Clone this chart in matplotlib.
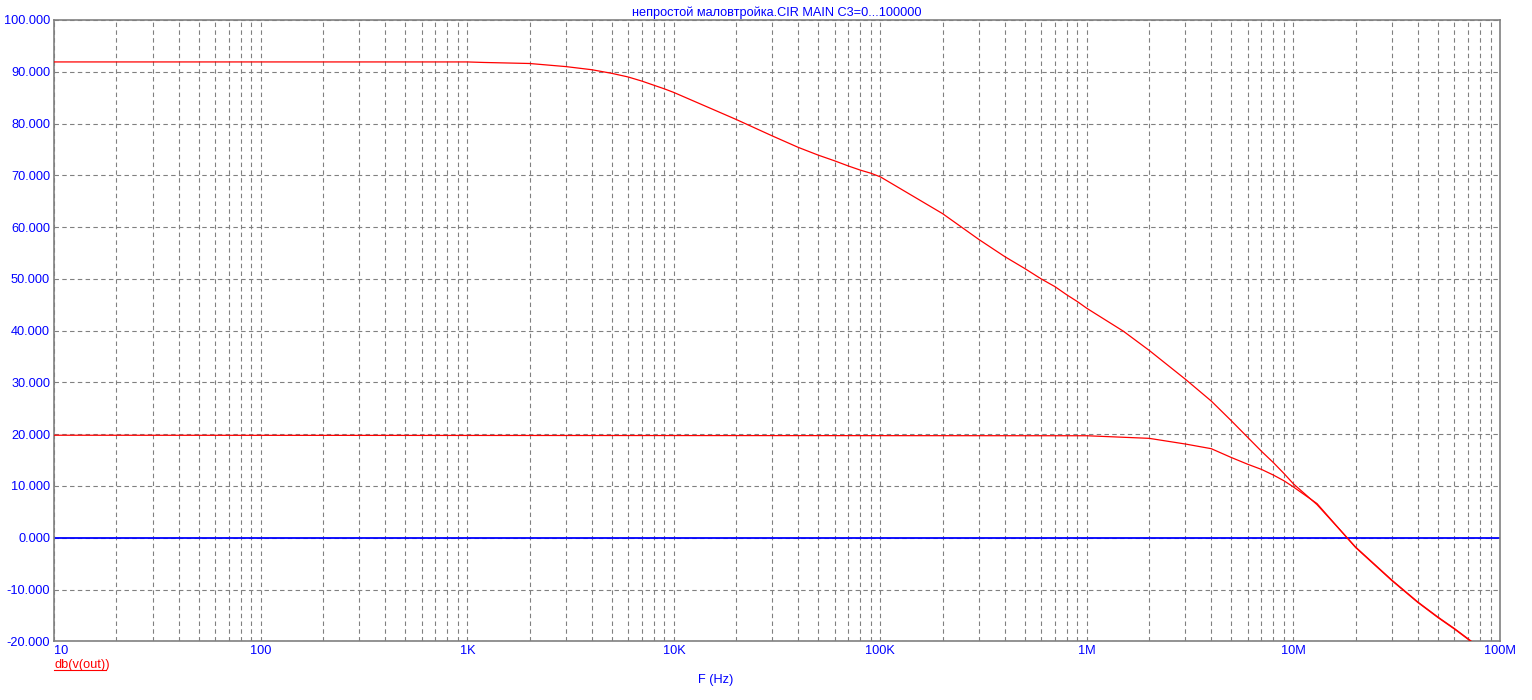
import numpy as np
import matplotlib
matplotlib.use('Agg')
import matplotlib.pyplot as plt
from matplotlib.lines import Line2D
from matplotlib.ticker import FixedLocator, NullFormatter

plt.rcParams['font.family'] = ['Liberation Sans', 'DejaVu Sans']

# upper curve (C3 = 0)
f_upper = [10, 1e3, 1.2e3, 2e3, 3e3, 4e3, 5e3, 6e3, 7e3, 8e3, 9e3, 1e4,
           2e4, 3e4, 4e4, 5e4, 6e4, 7e4, 8e4, 9e4, 1e5,
           2e5, 3e5, 4e5, 5e5, 6e5, 7e5, 8e5, 9e5, 1e6, 1.5e6,
           2e6, 3e6, 4e6, 5e6, 6e6, 7e6, 8e6, 9e6, 1e7, 1.3e7,
           2e7, 3e7, 4e7, 5e7, 6e7, 7e7, 1e8]
db_upper = [91.9, 91.9, 91.8, 91.6, 91.0, 90.4, 89.7, 89.0, 88.2, 87.4, 86.7, 86.0,
            80.8, 77.6, 75.4, 73.9, 72.8, 71.8, 71.0, 70.4, 69.7,
            62.6, 57.6, 54.3, 52.0, 50.0, 48.5, 46.9, 45.6, 44.3, 39.9,
            36.2, 30.6, 26.4, 22.6, 19.4, 16.7, 14.5, 12.4, 10.4, 6.4,
            -1.8, -8.2, -12.4, -15.3, -17.5, -19.5, -24.3]

# lower curve (C3 = 100000)
f_lower = [10, 1e6, 2e6, 3e6, 4e6, 5e6, 6e6, 7e6, 8e6, 9e6, 1e7, 1.3e7,
           2e7, 3e7, 4e7, 5e7, 6e7, 7e7, 1e8]
db_lower = [19.8, 19.7, 19.2, 18.1, 17.2, 15.5, 14.2, 13.2, 12.1, 11.0, 9.8, 6.6,
            -1.9, -8.3, -12.5, -15.4, -17.6, -19.6, -24.4]

x_ticks = [10, 100, 1e3, 1e4, 1e5, 1e6, 1e7, 1e8]
x_labels = ['10', '100', '1K', '10K', '100K', '1M', '10M', '100M']
y_ticks = list(range(-20, 101, 10))

blue = '#0000ff'
gray = '#808080'

fig = plt.figure(figsize=(15.32, 7.0), dpi=100)
ax = fig.add_axes([54.3 / 1532, 1 - 641.3 / 700, (1500 - 54.3) / 1532, (641.3 - 20) / 700])

ax.set_xscale('log')
ax.set_xlim(10, 1e8)
ax.set_ylim(-20, 100)

ax.axhline(0, color=blue, lw=1.3, zorder=2)
ax.plot(f_upper, db_upper, color='#ff0000', lw=0.9, zorder=3)
ax.plot(f_lower, db_lower, color='#ff0000', lw=0.9, zorder=3)

ax.xaxis.set_major_locator(FixedLocator(x_ticks))
ax.set_xticklabels(x_labels)
minor = [m * 10 ** e for e in range(1, 8) for m in range(2, 10)]
ax.xaxis.set_minor_locator(FixedLocator(minor))
ax.xaxis.set_minor_formatter(NullFormatter())
ax.set_yticks(y_ticks)
ax.set_yticklabels(['%.3f' % v for v in y_ticks])

ax.grid(True, which='both', axis='x', color=gray, ls=(0, (4, 3)), lw=0.8)
ax.grid(True, which='major', axis='y', color=gray, ls=(0, (4, 3)), lw=0.8)

ax.tick_params(which='both', length=0, labelcolor=blue, labelsize=9.2)
ax.tick_params(axis='x', pad=3)
ax.tick_params(axis='y', pad=3)
ax.get_xticklabels()[0].set_horizontalalignment('left')

for s in ax.spines.values():
    s.set_color(gray)
    s.set_linewidth(1.2)

fig.text(777 / 1532, 1 - 12.5 / 700, 'непростой маловтройка.CIR MAIN C3=0...100000',
         color=blue, fontsize=9.2, ha='center', va='center')
fig.text(716 / 1532, 1 - 680 / 700, 'F (Hz)', color=blue, fontsize=9.2,
         ha='center', va='center')
fig.text(54 / 1532, 1 - 665 / 700, 'db(v(out))', color='#ff0000', fontsize=9.2,
         ha='left', va='center')
fig.add_artist(Line2D([54 / 1532, 106 / 1532], [1 - 669.5 / 700, 1 - 669.5 / 700],
                      color='#ff0000', lw=0.8))

fig.savefig('out.png', dpi=100)
